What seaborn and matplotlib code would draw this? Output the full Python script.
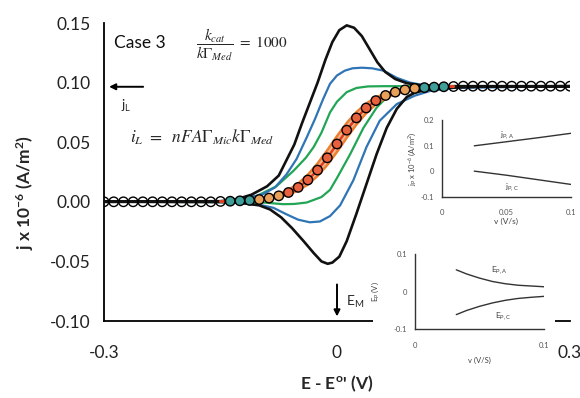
import matplotlib
matplotlib.use("Agg")
import matplotlib.pyplot as plt
import seaborn as sns
import pandas as pd
from matplotlib.patches import Rectangle

# ---------------- data ----------------
# outer black loop (fastest scan)
E_black_fwd = [-0.30, -0.15, -0.13, -0.11, -0.09, -0.075, -0.065, -0.055, -0.045, -0.035, -0.025, -0.015,
               -0.006, 0.003, 0.0125, 0.022, 0.032, 0.042, 0.052, 0.062, 0.075, 0.09, 0.11, 0.14, 0.30]
j_black_fwd = [0.0, 0.0005, 0.002, 0.006, 0.013, 0.022, 0.035, 0.048, 0.066, 0.083, 0.100, 0.119,
               0.134, 0.144, 0.148, 0.146, 0.139, 0.128, 0.117, 0.109, 0.103, 0.0995, 0.0975, 0.097, 0.097]
E_black_rev = [0.30, 0.18, 0.14, 0.115, 0.10, 0.09, 0.077, 0.064, 0.051, 0.038, 0.025, 0.0125, 0.003,
               -0.006, -0.012, -0.02, -0.03, -0.043, -0.058, -0.072, -0.086, -0.10, -0.125, -0.15, -0.30]
j_black_rev = [0.097, 0.0965, 0.0955, 0.094, 0.0915, 0.088, 0.078, 0.062, 0.040, 0.015, -0.010, -0.033, -0.046,
               -0.051, -0.052, -0.050, -0.043, -0.033, -0.022, -0.013, -0.0065, -0.003, -0.0008, -0.0002, 0.0]

# blue loop
E_blue_fwd = [-0.30, -0.15, -0.13, -0.11, -0.095, -0.08, -0.065, -0.052, -0.039, -0.028, -0.018, -0.009,
              0.0, 0.01, 0.02, 0.032, 0.045, 0.06, 0.077, 0.094, 0.115, 0.15, 0.30]
j_blue_fwd = [0.0, 0.0003, 0.0015, 0.004, 0.0065, 0.012, 0.023, 0.036, 0.054, 0.070, 0.086, 0.099,
              0.106, 0.110, 0.112, 0.1125, 0.112, 0.110, 0.104, 0.100, 0.0975, 0.097, 0.097]
E_blue_rev = [0.30, 0.15, 0.12, 0.10, 0.077, 0.055, 0.038, 0.021, 0.004, -0.009, -0.022, -0.035, -0.05,
              -0.065, -0.082, -0.10, -0.13, -0.15, -0.30]
j_blue_rev = [0.097, 0.0955, 0.093, 0.089, 0.082, 0.068, 0.046, 0.018, -0.003, -0.012, -0.0165, -0.0172, -0.015,
              -0.0105, -0.005, -0.0025, -0.0008, -0.0002, 0.0]

# green loop
E_green_fwd = [-0.30, -0.15, -0.13, -0.103, -0.078, -0.056, -0.04, -0.030, -0.02, -0.009, 0.0, 0.0125,
               0.025, 0.04, 0.06, 0.30]
j_green_fwd = [0.0, 0.0003, 0.0012, 0.005, 0.013, 0.026, 0.037, 0.046, 0.058, 0.075, 0.084, 0.092,
               0.0955, 0.0968, 0.097, 0.097]
E_green_rev = [0.30, 0.12, 0.09, 0.072, 0.051, 0.034, 0.017, 0.0, -0.009, -0.02, -0.039, -0.055,
               -0.069, -0.095, -0.12, -0.30]
j_green_rev = [0.097, 0.0965, 0.0955, 0.093, 0.079, 0.062, 0.040, 0.020, 0.010, 0.004, -0.0006, -0.0018,
               -0.002, -0.0006, -0.0002, 0.0]

# orange (slowest) loop: forward and reverse branches
E_band = [-0.15, -0.1375, -0.125, -0.1125, -0.1, -0.0875, -0.075, -0.0625, -0.05, -0.0375, -0.025, -0.0125,
          0.0, 0.0125, 0.025, 0.0375, 0.05, 0.0625, 0.075, 0.0875, 0.1, 0.1125, 0.125, 0.1375, 0.15]
j_band_up = [0.0004, 0.0006, 0.0010, 0.0016, 0.0025, 0.0041, 0.0064, 0.0100, 0.0153, 0.0227, 0.0322, 0.0433,
             0.0551, 0.0661, 0.0753, 0.0824, 0.0875, 0.0909, 0.0932, 0.0946, 0.0955, 0.0961, 0.0964, 0.0967, 0.0968]
j_band_lo = [0.0002, 0.0004, 0.0006, 0.0009, 0.0015, 0.0024, 0.0038, 0.0061, 0.0095, 0.0145, 0.0217, 0.0309,
             0.0419, 0.0537, 0.0648, 0.0743, 0.0817, 0.0870, 0.0906, 0.0930, 0.0945, 0.0954, 0.0960, 0.0964, 0.0966]

# steady-state curve (circles and red line)
E_ss = [-0.3, -0.2875, -0.275, -0.2625, -0.25, -0.2375, -0.225, -0.2125, -0.2, -0.1875, -0.175, -0.1625,
        -0.15, -0.1375, -0.125, -0.1125, -0.1, -0.0875, -0.075, -0.0625, -0.05, -0.0375, -0.025, -0.0125,
        0.0, 0.0125, 0.025, 0.0375, 0.05, 0.0625, 0.075, 0.0875, 0.1, 0.1125, 0.125, 0.1375,
        0.15, 0.1625, 0.175, 0.1875, 0.2, 0.2125, 0.225, 0.2375, 0.25, 0.2625, 0.275, 0.2875, 0.3]
j_ss = [0.0, 0.0, 0.0, 0.0, 0.0, 0.0, 0.0, 0.0, 0.0, 0.0, 0.0, 0.0,
        0.0003, 0.0005, 0.0008, 0.0012, 0.0019, 0.0031, 0.0050, 0.0078, 0.0121, 0.0183, 0.0266, 0.0369,
        0.0485, 0.0601, 0.0704, 0.0787, 0.0849, 0.0892, 0.0920, 0.0939, 0.0951, 0.0958, 0.0962, 0.0965,
        0.0967, 0.097, 0.097, 0.097, 0.097, 0.097, 0.097, 0.097, 0.097, 0.097, 0.097, 0.097, 0.097]

# inset 1: peak currents vs scan rate
v_jp = [0.025, 0.05, 0.075, 0.1]
jp_A = [0.099, 0.115, 0.131, 0.148]
jp_C = [0.0, -0.016, -0.034, -0.052]

# inset 2: peak potentials vs scan rate
v_ep = [0.032, 0.04, 0.05, 0.06, 0.07, 0.08, 0.09, 0.1]
Ep_A = [0.058, 0.047, 0.036, 0.027, 0.021, 0.017, 0.015, 0.013]
Ep_C = [-0.061, -0.050, -0.039, -0.030, -0.023, -0.018, -0.015, -0.0125]

main_xticks = [-0.3, -0.2, -0.1, 0.0, 0.1, 0.2, 0.3]
main_xticklabels = ["-0.3", "", "", "0", "", "", "0.3"]
main_yticks = [-0.10, -0.05, 0.0, 0.05, 0.10, 0.15]

# ---------------- style ----------------
sns.set_theme(style="white")
plt.rcParams["font.family"] = ["Lato", "DejaVu Sans"]
plt.rcParams["mathtext.fontset"] = "custom"
plt.rcParams["mathtext.rm"] = "Lato"
plt.rcParams["mathtext.it"] = "Lato:italic"
plt.rcParams["mathtext.bf"] = "Lato:bold"

BLACK = "#111111"
BLUE = "#2F75B5"
GREEN = "#22A555"
ORANGE = "#ED7D31"
BAND = "#F5B98C"
RED = "#E23B22"

fig = plt.figure(figsize=(5.8, 3.98), dpi=100)
ax = fig.add_axes([104 / 580, 1 - 321 / 398, 466 / 580, 298 / 398])

def loop(E1, j1, E2, j2, color, lw, z):
    df = pd.DataFrame({"E": E1 + E2, "j": j1 + j2})
    sns.lineplot(data=df, x="E", y="j", sort=False, estimator=None, color=color, lw=lw, ax=ax, zorder=z)

loop(E_green_fwd, j_green_fwd, E_green_rev, j_green_rev, GREEN, 1.6, 2)
loop(E_blue_fwd, j_blue_fwd, E_blue_rev, j_blue_rev, BLUE, 1.6, 2)
loop(E_black_fwd, j_black_fwd, E_black_rev, j_black_rev, BLACK, 1.9, 3)

# orange band (slowest scan) and red steady-state line
ax.fill_between(E_band, j_band_lo, j_band_up, color=BAND, lw=0, zorder=3)
sns.lineplot(x=E_band, y=j_band_up, color=ORANGE, lw=1.8, ax=ax, zorder=3, estimator=None)
sns.lineplot(x=E_band, y=j_band_lo, color=ORANGE, lw=1.8, ax=ax, zorder=3, estimator=None)
mid = pd.DataFrame({"E": E_ss, "j": j_ss})
mid = mid[(mid["E"] >= -0.15) & (mid["E"] <= 0.15)]
sns.lineplot(data=mid, x="E", y="j", color=RED, lw=1.8, ax=ax, zorder=4, estimator=None)

# circles with fills depending on position on the wave
def fill_class(j):
    if j <= 0.0004 or j >= 0.0966:
        return "open"
    if j < 0.0016 or j > 0.0957:
        return "teal"
    if j < 0.006 or j > 0.089:
        return "orange"
    return "red"

cdf = pd.DataFrame({"E": E_ss, "j": j_ss})
cdf["fill"] = [fill_class(v) for v in j_ss]
pal = {"open": (1, 1, 1, 0), "teal": "#3E9E9A", "orange": "#E9A15A", "red": "#E8603C"}
sns.scatterplot(data=cdf, x="E", y="j", hue="fill", palette=pal, s=46, edgecolor="black",
                linewidth=1.0, legend=False, ax=ax, zorder=6)

ax.set_xlim(-0.3, 0.3)
ax.set_ylim(-0.10, 0.15)
ax.set_xticks(main_xticks)
ax.set_xticklabels(main_xticklabels)
ax.set_yticks(main_yticks)
ax.set_yticklabels([f"{t:.2f}" for t in main_yticks])
sns.despine(ax=ax)
for s in ["left", "bottom"]:
    ax.spines[s].set_color("black")
    ax.spines[s].set_linewidth(1.3)
ax.tick_params(axis="y", direction="inout", length=11, width=1.3, labelsize=12.5, pad=4, colors="black")
ax.tick_params(axis="x", direction="in", length=5, width=1.3, labelsize=12.5, pad=17, colors="black")
for lab in ax.get_xticklabels() + ax.get_yticklabels():
    lab.set_color("#222222")

ax.set_xlabel(r"E - E$^\mathbf{o}$' (V)", fontsize=12.5, fontweight="bold")
ax.set_ylabel(r"j x 10$^{\mathbf{-6}}$ (A/m$^{\mathbf{2}}$)", fontsize=12.5, fontweight="bold")
ax.xaxis.set_label_coords(0.5, -0.175)
ax.yaxis.set_label_coords(-0.145, 0.43)

# annotations
ax.text(-0.287, 0.1336, "Case 3", fontsize=12.5, va="center", ha="left", color="#111111")
ax.text(-0.122, 0.132, r"$\dfrac{k_{cat}}{k\Gamma_{Med}}\ =\ 1000$", fontsize=11, va="center", ha="center",
        math_fontfamily="stix")
ax.annotate("", xy=(-0.297, 0.0965), xytext=(-0.246, 0.0965),
            arrowprops=dict(arrowstyle="-|>", color="black", lw=1.4, mutation_scale=9))
ax.text(-0.278, 0.080, r"j$_\mathregular{L}$", fontsize=9.5, va="center", ha="left")
ax.text(-0.266, 0.054, r"$i_L\ =\ \ nFA\Gamma_{Mic}k\Gamma_{Med}$", fontsize=12.5, va="center", ha="left",
        math_fontfamily="stix")
ax.annotate("", xy=(0.0, -0.0985), xytext=(0.0, -0.067),
            arrowprops=dict(arrowstyle="-|>", color="black", lw=1.4, mutation_scale=9))
ax.text(0.011, -0.084, r"E$_\mathregular{M}$", fontsize=10, va="center", ha="left")

# white cover under the lower inset (hides part of the main x axis)
fig.add_artist(Rectangle((373 / 580, 0.0), (555 - 373) / 580, 1 - 243 / 398, transform=fig.transFigure,
                         facecolor="white", edgecolor="none", zorder=1))

# ---------------- inset 1 ----------------
ax1 = fig.add_axes([442 / 580, 1 - 196.7 / 398, 129 / 580, 76.7 / 398], zorder=2)
ax1.patch.set_alpha(0)
sns.lineplot(x=v_jp, y=jp_A, color="#333333", lw=1.0, ax=ax1, estimator=None)
sns.lineplot(x=v_jp, y=jp_C, color="#333333", lw=1.0, ax=ax1, estimator=None)
ax1.set_xlim(0, 0.1)
ax1.set_ylim(-0.1, 0.2)
ax1.set_xticks([0, 0.05, 0.1])
ax1.set_xticklabels(["0", "0.05", "0.1"])
ax1.set_yticks([-0.1, 0, 0.1, 0.2])
ax1.set_yticklabels(["-0.1", "0", "0.1", "0.2"])
ax1.text(0.045, 0.141, r"j$_\mathregular{P,A}$", fontsize=6, color="#444444", ha="left", va="center")
ax1.text(0.049, -0.064, r"j$_\mathregular{P,C}$", fontsize=6, color="#444444", ha="left", va="center")
ax1.set_xlabel("v (V/s)", fontsize=6, color="#444444", labelpad=2)
ax1.set_ylabel(r"j$_\mathregular{P}$ x 10$^{-6}$ (A/m$^2$)", fontsize=5.5, color="#444444", labelpad=2)

# ---------------- inset 2 ----------------
ax2 = fig.add_axes([415 / 580, 1 - 329.3 / 398, 129 / 580, 75.3 / 398], zorder=2)
ax2.patch.set_alpha(0)
sns.lineplot(x=v_ep, y=Ep_A, color="#333333", lw=1.0, ax=ax2, estimator=None)
sns.lineplot(x=v_ep, y=Ep_C, color="#333333", lw=1.0, ax=ax2, estimator=None)
ax2.set_xlim(0, 0.1)
ax2.set_ylim(-0.1, 0.1)
ax2.set_xticks([0, 0.1])
ax2.set_xticklabels(["0", "0.1"])
ax2.set_yticks([-0.1, 0, 0.1])
ax2.set_yticklabels(["-0.1", "0", "0.1"])
ax2.text(0.059, 0.056, r"E$_\mathregular{P,A}$", fontsize=6, color="#444444", ha="left", va="center")
ax2.text(0.062, -0.066, r"E$_\mathregular{P,C}$", fontsize=6, color="#444444", ha="left", va="center")
ax2.set_xlabel("v (V/S)", fontsize=5.5, color="#444444", labelpad=5)
ax2.set_ylabel(r"E$_\mathregular{P}$ (V)", fontsize=5.5, color="#444444", labelpad=9)

for a in (ax1, ax2):
    sns.despine(ax=a)
    for s in ["left", "bottom"]:
        a.spines[s].set_color("#333333")
        a.spines[s].set_linewidth(1.0)
    a.tick_params(axis="both", direction="inout", length=5, width=1.0, labelsize=5.5, pad=3,
                  colors="#333333", labelcolor="#555555")
ax2.tick_params(axis="x", pad=7)
ax1.tick_params(axis="x", pad=6)

fig.savefig("out.png", dpi=100)
